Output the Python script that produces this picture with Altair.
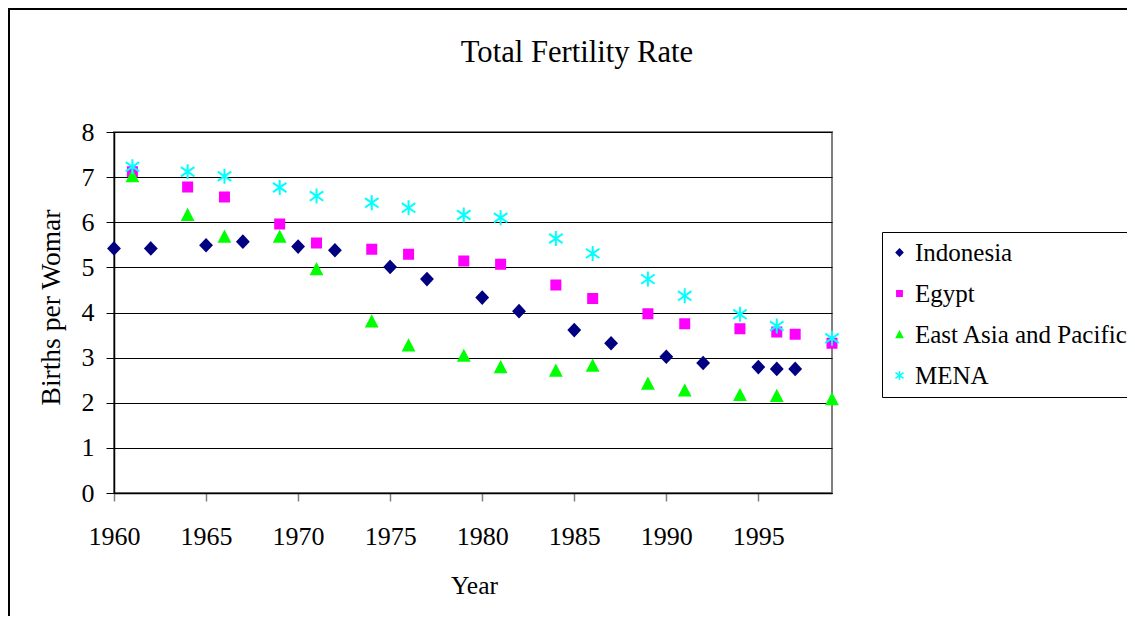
import altair as alt
import pandas as pd

series = ["Indonesia", "Egypt", "East Asia and Pacific", "MENA"]

indonesia_years = [1960, 1962, 1965, 1967, 1970, 1972, 1975, 1977, 1980, 1982, 1985, 1987, 1990, 1992, 1995, 1996, 1997]
indonesia_vals = [5.42, 5.42, 5.49, 5.57, 5.46, 5.38, 5.01, 4.74, 4.33, 4.03, 3.61, 3.32, 3.02, 2.88, 2.79, 2.75, 2.75]

egypt_years = [1961, 1964, 1966, 1969, 1971, 1974, 1976, 1979, 1981, 1984, 1986, 1989, 1991, 1994, 1996, 1997, 1999]
egypt_vals = [7.12, 6.78, 6.56, 5.96, 5.54, 5.40, 5.29, 5.14, 5.07, 4.61, 4.31, 3.97, 3.75, 3.64, 3.57, 3.52, 3.32]

eap_years = [1961, 1964, 1966, 1969, 1971, 1974, 1976, 1979, 1981, 1984, 1986, 1989, 1991, 1994, 1996, 1999]
eap_vals = [7.02, 6.16, 5.68, 5.68, 4.96, 3.80, 3.27, 3.04, 2.79, 2.71, 2.82, 2.42, 2.27, 2.17, 2.15, 2.08]

mena_years = [1961, 1964, 1966, 1969, 1971, 1974, 1976, 1979, 1981, 1984, 1986, 1989, 1991, 1994, 1996, 1999]
mena_vals = [7.23, 7.12, 7.02, 6.77, 6.58, 6.43, 6.32, 6.16, 6.10, 5.64, 5.31, 4.74, 4.37, 3.96, 3.70, 3.43]

x_ticks = [1960, 1965, 1970, 1975, 1980, 1985, 1990, 1995]
y_ticks = [0, 1, 2, 3, 4, 5, 6, 7, 8]

fill_colors = ["#000080", "#FF00FF", "#00FF00", "transparent"]
stroke_colors = ["#000080", "#FF00FF", "#00FF00", "#00FFFF"]
shape_paths = [
    "M0,-0.78L0.74,0L0,0.78L-0.74,0Z",
    "M-0.6,-0.6L0.6,-0.6L0.6,0.6L-0.6,0.6Z",
    "M0,-0.67L0.7,0.67L-0.7,0.67Z",
    "M0,-1L0,1M-0.9,-0.62L0.9,0.62M-0.9,0.62L0.9,-0.62",
]

rows = []
for name, ys, vs in [
    (series[0], indonesia_years, indonesia_vals),
    (series[1], egypt_years, egypt_vals),
    (series[2], eap_years, eap_vals),
    (series[3], mena_years, mena_vals),
]:
    for yr, v in zip(ys, vs):
        rows.append({"series": name, "year": yr, "tfr": v})
df = pd.DataFrame(rows)

FONT = "Liberation Serif"

leg = alt.Legend(
    title=None,
    orient="none",
    legendX=768,
    legendY=100,
    strokeColor="#000000",
    fillColor="#ffffff",
    padding=8,
    rowPadding=15,
    labelFont=FONT,
    labelFontSize=25,
    labelColor="#000000",
    labelLimit=400,
    labelOffset=3,
    symbolSize=80,
    symbolOffset=-3,
    symbolStrokeWidth=1.5,
)

points = alt.Chart(df).mark_point(size=225, strokeWidth=2, opacity=1).encode(
    x=alt.X(
        "year:Q",
        scale=alt.Scale(domain=[1960, 1999], nice=False, zero=False),
        axis=alt.Axis(
            title="Year",
            values=x_ticks,
            format="d",
            grid=False,
            tickSize=8,
            tickColor="#808080",
            tickWidth=1.5,
            domainColor="#000000",
            domainWidth=1.5,
            labelFont=FONT,
            labelFontSize=26,
            labelColor="#000000",
            labelBaseline="alphabetic",
            labelPadding=43,
            labelFlush=False,
            labelOverlap=False,
            titleFont=FONT,
            titleFontSize=25.5,
            titleFontWeight="normal",
            titleColor="#000000",
            titleBaseline="alphabetic",
            titleX=360,
            titleY=100,
        ),
    ),
    y=alt.Y(
        "tfr:Q",
        scale=alt.Scale(domain=[0, 8], nice=False),
        axis=alt.Axis(
            title="Births per Womar",
            values=y_ticks,
            grid=True,
            gridColor="#000000",
            gridWidth=1,
            tickSize=8,
            tickColor="#000000",
            domainColor="#000000",
            domainWidth=1.5,
            labelFont=FONT,
            labelFontSize=26,
            labelColor="#000000",
            labelPadding=12,
            labelFlush=False,
            labelOverlap=False,
            titleFont=FONT,
            titleFontSize=27.5,
            titleFontWeight="normal",
            titleColor="#000000",
            titleAngle=-90,
            titleBaseline="alphabetic",
            titleAlign="center",
            titleX=-55,
            titleY=175,
        ),
    ),
    fill=alt.Fill("series:N", scale=alt.Scale(domain=series, range=fill_colors), legend=leg),
    stroke=alt.Stroke("series:N", scale=alt.Scale(domain=series, range=stroke_colors), legend=leg),
    shape=alt.Shape("series:N", scale=alt.Scale(domain=series, range=shape_paths), legend=leg),
)

border = alt.Chart(pd.DataFrame({"k": [0]})).mark_rect(
    fill="transparent", stroke="#000000", strokeWidth=2
).encode(
    x=alt.value(-105),
    y=alt.value(-123),
    x2=alt.value(1200),
    y2=alt.value(700),
)

chart = alt.layer(border, points).properties(
    width=718,
    height=361,
    padding={"left": 106, "top": 124, "right": 295, "bottom": 123},
    autosize=alt.AutoSizeParams(type="none"),
    title=alt.TitleParams(
        text="Total Fertility Rate",
        font=FONT,
        fontSize=30.6,
        fontWeight="normal",
        color="#000000",
        anchor="middle",
        frame="group",
        baseline="alphabetic",
        offset=-85,
        dx=104,
    ),
).configure(font=FONT).configure_axis(
    labelFont=FONT, titleFont=FONT
).configure_legend(
    labelFont=FONT
).configure_view(stroke="#808080", strokeWidth=2)

chart.save("out.html", embed_options={"renderer": "svg", "actions": False})
